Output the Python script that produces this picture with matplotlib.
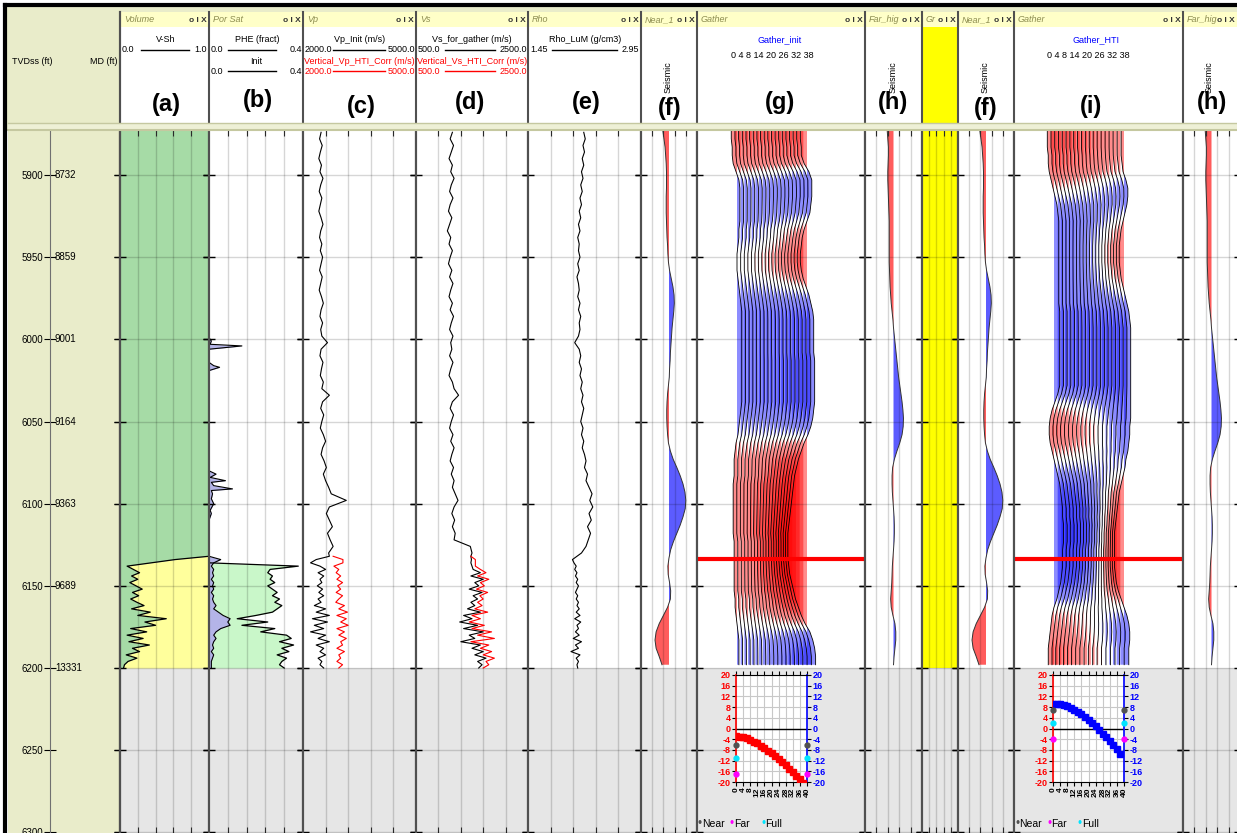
import numpy as np
import matplotlib
matplotlib.use('Agg')
import matplotlib.pyplot as plt
from matplotlib.patches import Rectangle
from matplotlib.lines import Line2D

plt.rcParams['font.family'] = ['Liberation Sans Narrow', 'Liberation Sans', 'DejaVu Sans']
plt.rcParams['axes.unicode_minus'] = False

# ---- depth axis ----
tvd_ticks = [5900, 5950, 6000, 6050, 6100, 6150, 6200, 6250, 6300]
md_labels = ['8732', '8859', '9001', '9164', '9363', '9689', '13331']
red_line_depth = 6133.6

# ---- log curves (upper section, 4 ft samples) ----
depth_upper = np.arange(5874, 6131, 4)
vp_upper = [2480, 2440, 2510, 2460, 2420, 2490, 2450, 2530, 2470, 2430,
            2500, 2460, 2420, 2480, 2530, 2470, 2440, 2500, 2460, 2520,
            2480, 2440, 2510, 2470, 2430, 2490, 2540, 2480, 2450, 2520,
            2470, 2500, 2650, 2480, 2450, 2530, 2490, 2460, 2540, 2500,
            2700, 2520, 2470, 2550, 2500, 2460, 2540, 2600, 2520, 2480,
            2560, 2620, 2540, 2600, 2680, 2750, 3150, 2700, 2620, 2700,
            2780, 2650, 2720, 2800, 2680]
vs_upper = [1150, 1110, 1170, 1130, 1090, 1150, 1120, 1180, 1130, 1100,
            1160, 1110, 1080, 1140, 1100, 1060, 1120, 1090, 1150, 1110,
            1080, 1140, 1100, 1160, 1120, 1090, 1150, 1110, 1170, 1130,
            1100, 1160, 1120, 1140, 1100, 1160, 1120, 1090, 1150, 1180,
            1260, 1150, 1110, 1170, 1130, 1100, 1160, 1120, 1180, 1140,
            1110, 1170, 1130, 1180, 1150, 1200, 1250, 1180, 1140, 1190,
            1150, 1200, 1180, 1470, 1500]
rho_upper = [2.19, 2.21, 2.18, 2.20, 2.17, 2.19, 2.16, 2.18, 2.15, 2.17,
             2.14, 2.16, 2.13, 2.15, 2.12, 2.14, 2.11, 2.13, 2.12, 2.14,
             2.11, 2.13, 2.10, 2.12, 2.13, 2.11, 2.14, 2.12, 2.15, 2.13,
             2.14, 2.12, 2.07, 2.13, 2.15, 2.13, 2.16, 2.14, 2.17, 2.15,
             2.18, 2.16, 2.19, 2.17, 2.15, 2.18, 2.16, 2.19, 2.17, 2.20,
             2.22, 2.20, 2.24, 2.22, 2.26, 2.30, 2.27, 2.31, 2.26, 2.29,
             2.24, 2.28, 2.25, 2.22, 2.16]

# ---- log curves (reservoir section, 2 ft samples) ----
depth_lower = np.arange(6132, 6201, 2)
vp_lower = [2700, 2350, 2200, 2450, 2600, 2400, 2550, 2450, 2500, 2380,
            2520, 2420, 2550, 2400, 2480, 2300, 2600, 2350, 2700, 2250,
            2650, 2300, 2550, 2200, 2600, 2400, 2700, 2350, 2550, 2450,
            2600, 2400, 2500, 2450, 2550]
vp_hti = [2800, 3060, 3060, 2820, 2950, 2880, 3000, 2900, 3050, 2920,
          3000, 2880, 3050, 2950, 2870, 3100, 2950, 3180, 2900, 3150,
          3000, 3200, 2900, 3100, 2950, 3150, 3000, 3050, 2900, 3100,
          2950, 3000, 2900, 3050, 2950]
vs_lower = [1480, 1490, 1480, 1500, 1520, 1650, 1480, 1700, 1550, 1620,
            1450, 1680, 1520, 1600, 1480, 1550, 1420, 1650, 1350, 1500,
            1280, 1600, 1350, 1700, 1450, 1550, 1300, 1650, 1500, 1700,
            1550, 1750, 1600, 1680, 1620]
vs_hti = [1480, 1560, 1560, 1560, 1650, 1750, 1600, 1800, 1650, 1720,
          1580, 1780, 1640, 1700, 1600, 1680, 1550, 1780, 1500, 1650,
          1450, 1720, 1500, 1850, 1600, 1900, 1480, 1800, 1650, 1850,
          1700, 1900, 1750, 1800, 1700]
rho_lower = [2.10, 2.04, 2.06, 2.09, 2.07, 2.10, 2.08, 2.11, 2.09, 2.12,
             2.10, 2.08, 2.11, 2.09, 2.12, 2.10, 2.13, 2.09, 2.14, 2.07,
             2.15, 2.10, 2.12, 2.08, 2.13, 2.05, 2.16, 2.08, 2.12, 2.02,
             2.14, 2.09, 2.12, 2.10, 2.11]
vsh_lower = [1.0, 0.62, 0.35, 0.08, 0.15, 0.22, 0.13, 0.20, 0.11, 0.18,
             0.25, 0.14, 0.21, 0.12, 0.19, 0.27, 0.13, 0.34, 0.20, 0.52,
             0.28, 0.40, 0.12, 0.30, 0.08, 0.26, 0.10, 0.33, 0.14, 0.22,
             0.07, 0.19, 0.09, 0.05, 0.04]
phe_lower = [0.0, 0.05, 0.02, 0.01, 0.02, 0.015, 0.02, 0.01, 0.02, 0.015,
             0.02, 0.01, 0.02, 0.015, 0.02, 0.03, 0.02, 0.04, 0.06, 0.09,
             0.08, 0.09, 0.05, 0.03, 0.02, 0.03, 0.02, 0.015, 0.02, 0.01,
             0.02, 0.015, 0.01, 0.01, 0.01]
init_lower = [0.0, 0.0, 0.0, 0.38, 0.26, 0.25, 0.27, 0.26, 0.28, 0.25,
              0.27, 0.29, 0.27, 0.30, 0.28, 0.31, 0.29, 0.27, 0.20, 0.12,
              0.25, 0.14, 0.28, 0.22, 0.33, 0.35, 0.30, 0.36, 0.31, 0.34,
              0.29, 0.33, 0.31, 0.30, 0.32]
phe_spike_depth = [5872.6, 5999, 6001, 6003, 6004, 6006, 6014, 6016, 6017, 6019,
                   6080, 6082, 6084, 6086, 6087, 6089, 6091, 6092, 6094, 6097,
                   6100, 6104, 6106, 6110, 6131]
phe_spike = [0.0, 0.0, 0.01, 0.005, 0.14, 0.0, 0.0, 0.02, 0.045, 0.0,
             0.0, 0.03, 0.005, 0.07, 0.01, 0.02, 0.10, 0.01, 0.015, 0.01,
             0.02, 0.005, 0.01, 0.0, 0.0]

# ---- seismic stacks and gathers (5 ft samples) ----
seis_depth = np.arange(5873, 6199, 5)
near_stack = [-0.22, -0.18, -0.14, -0.12, -0.10, -0.09, -0.09, -0.09, -0.10, -0.10,
              -0.10, -0.09, -0.08, -0.07, -0.05, -0.04, -0.02, 0.02, 0.08, 0.14,
              0.18, 0.19, 0.17, 0.14, 0.11, 0.09, 0.07, 0.05, 0.04, 0.02,
              0.01, -0.02, -0.05, -0.07, -0.08, -0.08, -0.07, -0.05, -0.02, 0.05,
              0.15, 0.28, 0.40, 0.50, 0.57, 0.60, 0.58, 0.50, 0.40, 0.28,
              0.16, 0.06, 0.00, -0.04, -0.03, 0.02, 0.06, 0.05, -0.05, -0.20,
              -0.35, -0.46, -0.50, -0.46, -0.35, -0.25]
far_stack = [-0.22, -0.20, -0.18, -0.18, -0.19, -0.20, -0.20, -0.19, -0.18, -0.17,
             -0.16, -0.15, -0.15, -0.15, -0.15, -0.15, -0.15, -0.14, -0.13, -0.12,
             -0.10, -0.08, -0.05, -0.02, 0.00, 0.03, 0.06, 0.09, 0.12, 0.15,
             0.18, 0.22, 0.26, 0.30, 0.33, 0.35, 0.34, 0.30, 0.22, 0.12,
             0.03, -0.03, -0.05, -0.05, -0.04, -0.02, 0.00, 0.02, 0.03, 0.03,
             0.02, 0.00, -0.02, -0.04, -0.05, -0.06, -0.08, -0.10, -0.08, -0.02,
             0.05, 0.08, 0.08, 0.05, 0.02, 0.00]
gather_angles = np.arange(0, 39, 2)
init_near = [-6, -6, -5, -5, -4, -1, 2, 3, 3, 3,
             3, 3, 2, 2, 1, 0, 0, 0, 1, 2,
             3, 4, 5, 5, 5, 5, 5, 5, 5, 5,
             5, 5, 5, 5, 4, 3, 2, 1, -1, -2,
             -3, -3, -3, -4, -4, -4, -4, -4, -4, -4,
             -3, -3, -3, -3, -3, -3, -3, -2, -2, -1,
             0, 1, 2, 2, 2, 2]
init_far = [-7, -7, -6, -6, -3, 2, 5, 5, 5, 4,
            3, 0, -3, -5, -6, -7, -7, -6, -4, -1,
            2, 4, 6, 7, 7, 7, 7, 7, 8, 8,
            8, 8, 8, 8, 7, 6, 4, 1, -3, -6,
            -9, -11, -13, -14, -15, -16, -17, -18, -19, -20,
            -20, -20, -20, -19, -18, -16, -14, -12, -9, -6,
            -2, 3, 6, 8, 9, 9]
hti_near = [-7, -7, -7, -6, -6, -5, -3, -1, 1, 3,
            4, 5, 5, 5, 5, 5, 5, 5, 5, 5,
            5, 5, 6, 6, 6, 6, 6, 6, 6, 6,
            6, 6, 4, 1, -2, -4, -5, -5, -4, -2,
            0, 2, 4, 6, 7, 8, 9, 9, 10, 10,
            10, 9, 9, 9, 8, 7, 5, 3, 0, -2,
            -3, -4, -5, -6, -6, -6]
hti_far = [-3, -3, -3, -3, -2, -1, 2, 4, 4, 3,
           1, -1, -3, -4, -5, -5, -5, -4, -3, -1,
           1, 3, 5, 6, 7, 7, 7, 7, 7, 7,
           7, 7, 7, 7, 7, 7, 6, 6, 5, 4,
           2, 1, -1, -3, -5, -6, -7, -8, -9, -10,
           -10, -10, -10, -10, -9, -8, -6, -3, 0, 3,
           5, 6, 6, 5, 5, 5]

# ---- AVO curves at the red line ----
avo_angles = np.arange(0, 39, 2)
avo_init = [-2.9, -3.0, -3.3, -3.7, -4.2, -4.9, -5.6, -6.4, -7.3, -8.3,
            -9.3, -10.4, -11.5, -12.6, -13.8, -15.0, -16.3, -17.6, -19.0, -20.3]
avo_hti = [9.2, 9.2, 9.0, 8.7, 8.3, 7.7, 7.0, 6.2, 5.3, 4.3,
           3.2, 2.0, 0.8, -0.5, -1.9, -3.3, -4.8, -6.3, -7.8, -9.4]
stack_names = ['Near', 'Far', 'Full']
stack_colors = ['#505050', '#ff00ff', '#00e5ff']
init_stack_amp = [-6, -17, -11]
hti_stack_amp = [7, -4, 2]

# ---- layout ----
W, H = 1237, 833
TOP_PX = 130
PX_PER_FT = 1.6433
D_TOP = 5872.6
D_BOT = D_TOP + (H - TOP_PX) / PX_PER_FT
OLIVE = '#e9ecca'
GRAY_BG = '#e6e6e6'
GRID = (0, 0, 0, 0.16)
BORDER = '#505050'

fig = plt.figure(figsize=(W / 100, H / 100), dpi=100)
fig.patch.set_facecolor('white')


def px_axes(x0, x1, y0=TOP_PX, y1=H):
    return fig.add_axes([x0 / W, 1 - y1 / H, (x1 - x0) / W, (y1 - y0) / H])


def ftext(x, y, s, **kw):
    kw.setdefault('fontsize', 6.5)
    kw.setdefault('va', 'center')
    fig.text(x / W, 1 - y / H, s, **kw)


def fline(x0, y0, x1, y1, color='black', lw=1.0, z=3):
    fig.add_artist(Line2D([x0 / W, x1 / W], [1 - y0 / H, 1 - y1 / H], color=color, lw=lw, zorder=z))


def frect(x0, y0, x1, y1, color, z=-1):
    fig.add_artist(Rectangle((x0 / W, 1 - y1 / H), (x1 - x0) / W, (y1 - y0) / H,
                             facecolor=color, lw=0, zorder=z))


def make_track(x0, x1, xlim, grid=(), shade=True):
    ax = px_axes(x0, x1)
    ax.set_xlim(*xlim)
    ax.set_ylim(D_BOT, D_TOP)
    if shade:
        ax.axhspan(6200, D_BOT, color=GRAY_BG, lw=0, zorder=0)
    for g in grid:
        ax.axvline(g, color=GRID, lw=1, zorder=2.5)
    for d in tvd_ticks:
        ax.axhline(d, color=GRID, lw=1, zorder=2.5)
    ax.set_xticks(list(grid))
    ax.tick_params(axis='x', direction='in', length=4, top=True, bottom=True,
                   labelbottom=False, color='#333333')
    ax.set_yticks(tvd_ticks)
    ax.tick_params(axis='y', direction='inout', length=8, width=1, left=True, right=True,
                   labelleft=False, color='black')
    for s in ('top', 'bottom'):
        ax.spines[s].set_visible(False)
    for s in ('left', 'right'):
        ax.spines[s].set_color(BORDER)
        ax.spines[s].set_linewidth(1.5)
    return ax


# ---- header background ----
frect(5, 7, W, 131, OLIVE, z=-2)
tracks = [('Volume', 120, 209), ('Por Sat', 209, 303), ('Vp', 303, 416), ('Vs', 416, 528),
          ('Rho', 528, 641), ('Near_1', 641, 697), ('Gather', 697, 865), ('Far_hig', 865, 922),
          ('Gr', 922, 958), ('Near_1', 958, 1014), ('Gather', 1014, 1183), ('Far_hig', 1183, 1240)]
for name, x0, x1 in tracks:
    frect(x0, 27, x1, 123, 'yellow' if name == 'Gr' else 'white', z=-1)
    frect(x0 + 1, 12, x1 - 1, 27, '#ffffc8', z=-1)
    ftext(x0 + 4, 20, name, style='italic', color='#8c8c50', fontsize=6.5)
    ftext(min(x1, W) - 2, 20, 'o I X', ha='right', fontsize=6, fontweight='bold', color='#333333',
          bbox=dict(facecolor='#ffffc8', edgecolor='none', pad=0.5))
    fline(x0, 12, x0, H, color=BORDER, lw=1.5)
fline(120, 12, 120, H, color=BORDER, lw=1.5)
frect(8, 123, W, 131, '#eef0d6', z=5)
fline(8, 123, W, 123, color='#c5c8a0', lw=1, z=6)
fline(8, 130, W, 130, color='#c5c8a0', lw=1.5, z=6)
fline(5, 5, W, 5, color='black', lw=3, z=7)
fline(5, 5, 5, H, color='black', lw=3, z=7)

ftext(12, 62, 'TVDss (ft)', fontsize=6.5)
ftext(118, 62, 'MD (ft)', ha='right', fontsize=6.5)

# curve header entries
ftext(166, 40, 'V-Sh', ha='center')
fline(141, 50, 189, 50)
ftext(122, 50, '0.0'); ftext(207, 50, '1.0', ha='right')
ftext(257, 40, 'PHE (fract)', ha='center')
fline(228, 50, 276, 50)
ftext(211, 50, '0.0'); ftext(302, 50, '0.4', ha='right')
ftext(256, 61, 'Init', ha='center')
fline(228, 71, 276, 71)
ftext(211, 71, '0.0'); ftext(302, 71, '0.4', ha='right')
ftext(360, 40, 'Vp_Init (m/s)', ha='center')
fline(333, 50, 385, 50)
ftext(305, 50, '2000.0'); ftext(415, 50, '5000.0', ha='right')
ftext(359, 61, 'Vertical_Vp_HTI_Corr (m/s)', ha='center', color='red')
fline(333, 71, 385, 71, color='red')
ftext(305, 71, '2000.0', color='red'); ftext(415, 71, '5000.0', ha='right', color='red')
ftext(472, 40, 'Vs_for_gather (m/s)', ha='center')
fline(445, 50, 495, 50)
ftext(418, 50, '500.0'); ftext(527, 50, '2500.0', ha='right')
ftext(472, 61, 'Vertical_Vs_HTI_Corr (m/s)', ha='center', color='red')
fline(445, 71, 495, 71, color='red')
ftext(418, 71, '500.0', color='red'); ftext(527, 71, '2500.0', ha='right', color='red')
ftext(585, 40, 'Rho_LuM (g/cm3)', ha='center')
fline(552, 50, 617, 50)
ftext(530, 50, '1.45'); ftext(639, 50, '2.95', ha='right')
ftext(780, 40, 'Gather_init', ha='center', color='blue')
ftext(772, 55, '0 4 8 14 20 26 32 38', ha='center')
ftext(1096, 40, 'Gather_HTI', ha='center', color='blue')
ftext(1088, 55, '0 4 8 14 20 26 32 38', ha='center')
for xs in (668, 893, 985, 1209):
    ftext(xs, 77, 'Seismic', ha='center', rotation=90, fontsize=6.5)
for lab, xc, yc in [('(a)', 166, 105), ('(b)', 258, 101), ('(c)', 361, 107), ('(d)', 470, 103),
                    ('(e)', 586, 103), ('(f)', 670, 108), ('(g)', 780, 103), ('(h)', 893, 102),
                    ('(f)', 986, 108), ('(i)', 1091, 106), ('(h)', 1212, 102)]:
    ftext(xc, yc, lab, ha='center', fontsize=17, fontweight='bold')

# ---- depth track ----
axd = px_axes(8, 120)
axd.set_facecolor(OLIVE)
axd.set_xlim(0, 1)
axd.set_ylim(D_BOT, D_TOP)
axd.spines['left'].set_position(('axes', 42 / 112))
axd.spines['left'].set_color('#707070')
axd.spines['right'].set_color(BORDER)
axd.spines['right'].set_linewidth(1.5)
for s in ('top', 'bottom'):
    axd.spines[s].set_visible(False)
axd.set_xticks([])
axd.set_yticks(tvd_ticks)
axd.set_yticklabels([str(t) for t in tvd_ticks], fontsize=7)
axd.tick_params(axis='y', direction='inout', length=8, left=True, right=True, pad=1)
for t, md in zip(tvd_ticks, md_labels):
    axd.text(47 / 112, t, md, fontsize=7, va='center', ha='left')

# (a) V-Sh
vsh_depth = np.concatenate([[D_TOP], depth_lower])
vsh = np.concatenate([[1.0], vsh_lower])
ax = make_track(120, 209, (0, 1), [0.2, 0.4, 0.6, 0.8])
ax.fill_betweenx(vsh_depth, 0, vsh, color='#a6dba6', lw=0, zorder=1)
ax.fill_betweenx(vsh_depth, vsh, 1, color='#ffff9c', lw=0, zorder=1)
ax.plot(vsh_lower, depth_lower, color='black', lw=0.9, zorder=3)

# (b) PHE / Init
ax = make_track(209, 303, (0, 0.4), [0.08, 0.16, 0.24, 0.32])
ax.fill_betweenx(phe_spike_depth, 0, phe_spike, color='#b4b4e8', lw=0, zorder=1)
ax.plot(phe_spike, phe_spike_depth, color='black', lw=0.8, zorder=3)
phe_l = np.array(phe_lower)
init_l = np.array(init_lower)
ax.fill_betweenx(depth_lower, 0, phe_l, color='#b4b4e8', lw=0, zorder=1)
ax.fill_betweenx(depth_lower, phe_l, init_l, where=init_l > phe_l, interpolate=True,
                 color='#c9f7c9', lw=0, zorder=1)
ax.plot(phe_l, depth_lower, color='black', lw=0.8, zorder=3)
ax.plot(init_l, depth_lower, color='black', lw=0.9, zorder=3)

# (c) Vp
ax = make_track(303, 416, (2000, 5000), [2600, 3200, 3800, 4400])
ax.plot(np.concatenate([vp_upper, vp_lower]), np.concatenate([depth_upper, depth_lower]),
        color='black', lw=0.8, zorder=3)
ax.plot(vp_hti, depth_lower, color='red', lw=0.8, zorder=3)

# (d) Vs
ax = make_track(416, 528, (500, 2500), [900, 1300, 1700, 2100])
ax.plot(np.concatenate([vs_upper, vs_lower]), np.concatenate([depth_upper, depth_lower]),
        color='black', lw=0.8, zorder=3)
ax.plot(vs_hti, depth_lower, color='red', lw=0.8, zorder=3)

# (e) Rho
ax = make_track(528, 641, (1.45, 2.95), [1.75, 2.05, 2.35, 2.65])
ax.plot(np.concatenate([rho_upper, rho_lower]), np.concatenate([depth_upper, depth_lower]),
        color='black', lw=0.8, zorder=3)


def seismic_track(x0, x1, amp):
    a = make_track(x0, x1, (-1, 1), [-0.6, -0.2, 0.2, 0.6])
    amp = np.array(amp)
    a.fill_betweenx(seis_depth, 0, amp, where=amp < 0, interpolate=True, color='#ff5c5c', lw=0, zorder=1.5)
    a.fill_betweenx(seis_depth, 0, amp, where=amp > 0, interpolate=True, color='#5c5cff', lw=0, zorder=1.5)
    a.plot(amp, seis_depth, color='#333333', lw=0.7, zorder=3)


def gather_track(x0, x1, near, far, avo, stack_amp, avo_color):
    base_px = x0 + 40
    scale = 70 / 38
    a = make_track(x0, x1, ((x0 - base_px) / scale, (x1 - base_px) / scale))
    near = np.array(near, float)
    far = np.array(far, float)
    w = np.sin(np.radians(gather_angles)) ** 2 / np.sin(np.radians(38)) ** 2
    for th, wt in zip(gather_angles, w):
        x = th + 0.52 * (near + (far - near) * wt)
        a.fill_betweenx(seis_depth, th, x, where=x < th, interpolate=True,
                        color=(1, 0, 0, 0.45), lw=0, zorder=1.5)
        a.fill_betweenx(seis_depth, th, x, where=x > th, interpolate=True,
                        color=(0, 0, 1, 0.45), lw=0, zorder=1.5)
        a.plot(x, seis_depth, color='black', lw=0.6, zorder=3)
    a.axhline(red_line_depth, color='red', lw=3, zorder=4)
    # AVO inset
    ai = fig.add_axes([(x0 + 39) / W, 1 - 782 / H, 71 / W, 107 / H])
    ai.set_xlim(0, 40)
    ai.set_ylim(-20, 20)
    ai.set_xticks(np.arange(0, 41, 4))
    ai.set_yticks(np.arange(-20, 21, 4))
    ai.grid(color='#c8c8c8', lw=0.8)
    ai.axhline(0, color='black', lw=1)
    ai.plot(avo_angles, avo, 's', color=avo_color, ms=4, zorder=5, clip_on=True)
    for amp_v, c in zip(stack_amp, stack_colors):
        ai.plot([0, 40], [amp_v, amp_v], 'o', color=c, ms=3.5, lw=0, clip_on=False, zorder=6)
    ai.tick_params(axis='y', left=True, right=True, labelleft=True, labelright=True,
                   labelsize=6.5, length=3, pad=1)
    for tk in ai.yaxis.get_major_ticks():
        tk.label1.set_color('red')
        tk.label2.set_color('blue')
        tk.label1.set_fontweight('bold')
        tk.label2.set_fontweight('bold')
    ai.tick_params(axis='x', top=True, bottom=True, direction='out', length=3,
                   labelsize=6, labelrotation=90, pad=1)
    for lbl in ai.get_xticklabels():
        lbl.set_fontweight('bold')
    ai.spines['left'].set_color('red')
    ai.spines['right'].set_color('blue')
    ai.spines['left'].set_linewidth(1.2)
    ai.spines['right'].set_linewidth(1.2)
    # legend
    lx = x0 + 1
    for nm, c, off in zip(stack_names, stack_colors, (0, 32, 63)):
        ftext(lx + off, 824, '\u2022', color=c, fontsize=8.5)
        ftext(lx + off + 4, 824, nm, fontsize=7.5)


seismic_track(641, 697, near_stack)
gather_track(697, 865, init_near, init_far, avo_init, init_stack_amp, 'red')
seismic_track(865, 922, far_stack)
axg = make_track(922, 958, (0, 1), [0.2, 0.4, 0.6, 0.8])
axg.axhspan(D_TOP, 6200, color='yellow', lw=0, zorder=1)
seismic_track(958, 1014, near_stack)
gather_track(1014, 1183, hti_near, hti_far, avo_hti, hti_stack_amp, 'blue')
seismic_track(1183, 1240, far_stack)

fig.savefig('out.png', dpi=100)
